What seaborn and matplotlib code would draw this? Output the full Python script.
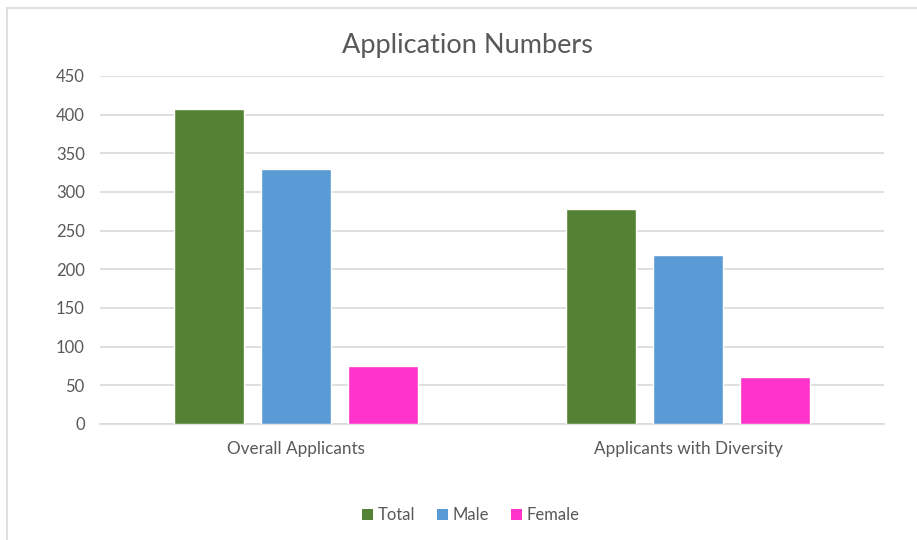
import matplotlib
matplotlib.use("Agg")
import matplotlib.pyplot as plt
import seaborn as sns
import pandas as pd
from matplotlib.lines import Line2D
from matplotlib.patches import Patch

categories = ["Overall Applicants", "Applicants with Diversity"]
series = ["Total", "Male", "Female"]
total = [407, 278]
male = [330, 218]
female = [75, 61]
colors = ["#548235", "#5B9BD5", "#FF33CC"]
yticks = [0, 50, 100, 150, 200, 250, 300, 350, 400, 450]

rows = []
for s, vals in zip(series, [total, male, female]):
    for c, v in zip(categories, vals):
        rows.append({"Category": c, "Series": s, "Value": v})
df = pd.DataFrame(rows)

sns.set_theme(style="white")
plt.rcParams["font.family"] = ["Lato", "DejaVu Sans"]
text_color = "#595959"
grid_color = "#D9D9D9"

fig = plt.figure(figsize=(9.17, 5.40), dpi=100)
ax = fig.add_axes([100/917, 1-424/540, (884-100)/917, (424-76)/540])

sns.barplot(data=df, x="Category", y="Value", hue="Series", order=categories,
            hue_order=series, palette=colors, width=0.665, gap=0.2,
            saturation=1, ax=ax, legend=False, zorder=3)

ax.set_ylim(0, 450)
ax.set_xlim(-0.5, 1.5)
ax.set_yticks(yticks)
ax.set_yticklabels([str(t) for t in yticks], color=text_color, fontsize=12)
ax.tick_params(axis="x", colors=text_color, labelsize=12.3, length=0, pad=12)
ax.tick_params(axis="y", length=0, pad=11)
ax.yaxis.grid(True, color=grid_color, linewidth=1.2, zorder=0)
ax.set_axisbelow(True)
for sp in ["top", "right", "left"]:
    ax.spines[sp].set_visible(False)
ax.spines["bottom"].set_color(grid_color)
ax.spines["bottom"].set_linewidth(1.2)
ax.set_xlabel("")
ax.set_ylabel("")

fig.text(467/917, 1-45/540, "Application Numbers", ha="center", va="center",
         fontsize=19.5, color=text_color)

handles = [Patch(facecolor=c, edgecolor="none", label=s) for s, c in zip(series, colors)]
fig.legend(handles=handles, loc="center", bbox_to_anchor=(471/917, 1-515/540),
           ncol=3, frameon=False, fontsize=12, handlelength=0.65, handleheight=0.65,
           handletextpad=0.3, columnspacing=1.3, labelcolor=text_color)

# outer chart border (top and left visible)
fig.add_artist(Line2D([7/917, 1], [1-8/540, 1-8/540], color="#D9D9D9", lw=1.2))
fig.add_artist(Line2D([7/917, 7/917], [0, 1-8/540], color="#D9D9D9", lw=1.2))

fig.savefig("out.png", dpi=100, facecolor="white")
